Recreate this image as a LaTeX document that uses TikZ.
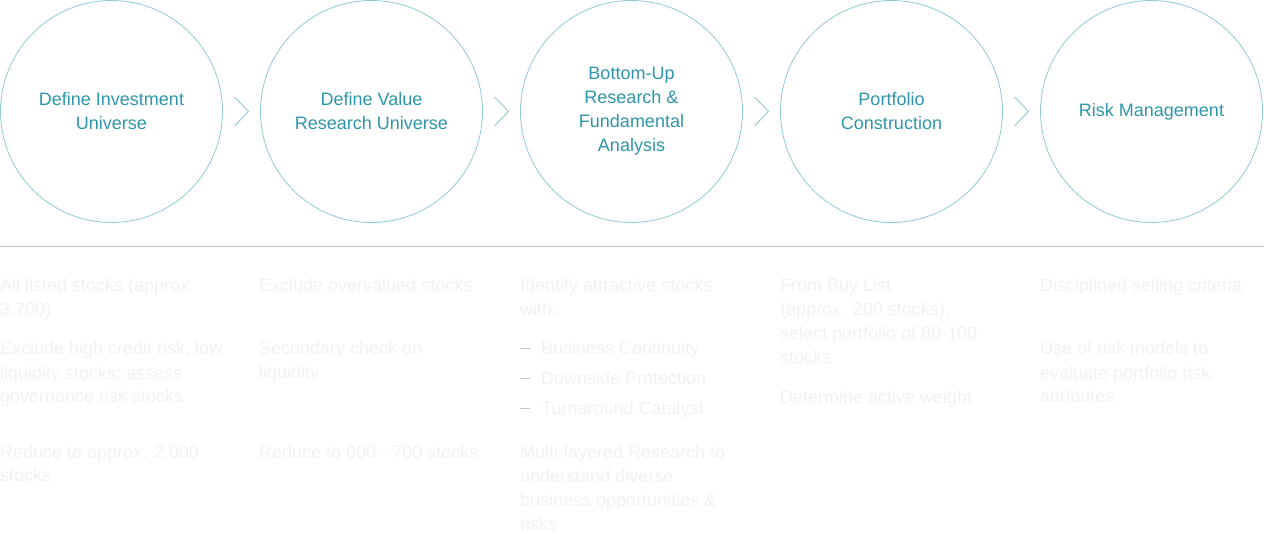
\documentclass[tikz,border=0pt]{standalone}
\usepackage{fontspec}
\setmainfont{Liberation Sans}
\usetikzlibrary{positioning,calc}
\definecolor{tealtext}{HTML}{2E96AA}
\definecolor{tealring}{HTML}{8FCAD3}
\definecolor{rulegray}{HTML}{BCC7CB}
\definecolor{faint}{HTML}{F1F1F1}
\definecolor{dashgray}{HTML}{C6C6C6}
\tikzset{
  every node/.style={font=\fontsize{18}{24}\selectfont},
  stage/.style={circle,draw=tealring,line width=0.8pt,minimum size=222pt,inner sep=0pt,align=center,text=tealtext},
  chevron/.style={draw=tealring,line width=0.9pt},
  divider/.style={draw=rulegray,line width=1pt},
  detail/.style={anchor=base west,inner sep=0pt,align=left,text=faint},
  bulletdash/.style={draw=dashgray,line width=0.9pt}
}
\begin{document}
\begin{tikzpicture}[x=1pt,y=-1pt,node distance=37.2pt]
  \useasboundingbox (0,0) rectangle (1264,534);

  % stages
  \node[stage] (define) at (111.5,111.5) {Define Investment\\Universe};
  \node[stage,right=of define] (value) {Define Value\\Research Universe};
  \node[stage,right=of value] (research) {Bottom-Up\\Research \&\\Fundamental\\Analysis};
  \node[stage,right=of research] (portfolio) {Portfolio\\Construction};
  \node[stage,right=of portfolio] (risk) {Risk Management};

  \foreach \a/\b in {define/value,value/research,research/portfolio,portfolio/risk}
    \draw[chevron] ($(\a.east)!0.5!(\b.west)+(-7,-14.5)$) -- ++(14,14.5) -- ++(-14,14.5);

  \draw[divider] (0,246.5) -- (1264,246.5);

  % details (base = baseline of the last line)
  \node[detail] (d1a) at (0,316) {All listed stocks (approx.\\3,700)};
  \node[detail] (d1b) at (0,403) {Exclude high credit risk, low\\liquidity stocks; assess\\governance risk stocks};
  \node[detail] (d1c) at (0,482) {Reduce to approx. 2,000\\stocks};

  \node[detail] (d2a) at (259,292) {Exclude overvalued stocks};
  \node[detail] (d2b) at (259,379) {Secondary check on\\liquidity};
  \node[detail] (d2c) at (259,458) {Reduce to 600 - 700 stocks};

  \node[detail] (d3a) at (520,316) {Identify attractive stocks\\with:};
  \node[detail] (b1) at (541,355) {Business Continuity};
  \node[detail] (b2) at (541,385) {Downside Protection};
  \node[detail] (b3) at (541,415) {Turnaround Catalyst};
  \foreach \b in {b1,b2,b3}
    \draw[bulletdash] ($(\b.base west)+(-21,-7)$) -- ++(10,0);
  \node[detail] (d3b) at (520,530) {Multi-layered Research to\\understand diverse\\business opportunities \&\\risks};

  \node[detail] (d4a) at (780,364) {From Buy List\\(approx. 200 stocks),\\select portfolio of 80-100\\stocks};
  \node[detail] (d4b) at (780,404) {Determine active weight};

  \node[detail] (d5a) at (1040,292) {Disciplined selling criteria};
  \node[detail] (d5b) at (1040,403) {Use of risk models to\\evaluate portfolio risk\\attributes};
\end{tikzpicture}
\end{document}
